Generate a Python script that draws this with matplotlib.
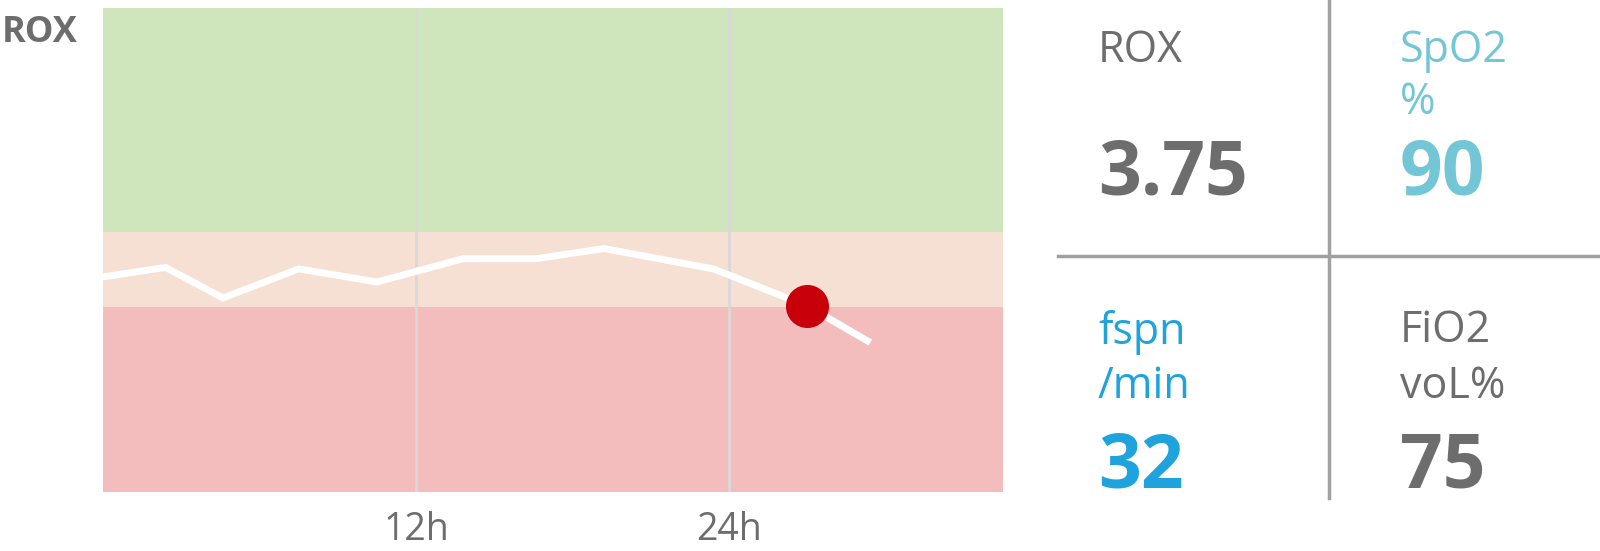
import matplotlib
matplotlib.use("Agg")
import matplotlib.pyplot as plt
from matplotlib.lines import Line2D

plt.rcParams['font.family'] = ['Open Sans', 'DejaVu Sans']

# ROX trend over time (hours)
hours = [0, 2.4, 4.6, 7.5, 10.5, 13.8, 16.6, 19.2, 23.4, 27.0, 29.3]
rox = [4.26, 4.39, 3.97, 4.37, 4.19, 4.51, 4.51, 4.65, 4.37, 3.86, 3.38]
current_idx = 9

# risk zones
low_thr = 3.85
high_thr = 4.88
y_min, y_max = 1.3, 7.96

tick_hours = [12, 24]
tick_labels = ['12h', '24h']

# right panel values
panel_labels = [['ROX'], ['SpO2', '%'], ['fspn', '/min'], ['FiO2', 'voL%']]
panel_values = ['3.75', '90', '32', '75']

GRAY = '#6d6d6d'
TEAL = '#72c6d6'
BLUE = '#1fa3dc'
panel_colors = [GRAY, TEAL, BLUE, GRAY]

W, H = 1600, 551
fig = plt.figure(figsize=(W / 100, H / 100), dpi=100)

def fx(px):
    return px / W

def fy(py):
    return 1 - py / H

ax = fig.add_axes([fx(103), fy(492), fx(1003) - fx(103), fy(8) - fy(492)])
ax.axhspan(y_min, low_thr, color='#f3bdbd', lw=0, zorder=0)
ax.axhspan(low_thr, high_thr, color='#f6dfd3', lw=0, zorder=0)
ax.axhspan(high_thr, y_max, color='#cfe6bd', lw=0, zorder=0)
for t in tick_hours:
    ax.axvline(t, color='#d9d9d9', lw=2, zorder=1)
ax.plot(hours, rox, color='white', lw=5, zorder=2, solid_joinstyle='miter')
ax.plot(hours[current_idx], rox[current_idx], 'o', color='#c8000a', ms=31, mec='none', zorder=3)
ax.set_xlim(0, 34.5)
ax.set_ylim(y_min, y_max)
ax.set_xticks(tick_hours)
ax.set_xticklabels(tick_labels, fontsize=27, color=GRAY)
ax.tick_params(axis='x', length=0, pad=14)
ax.set_yticks([])
for s in ax.spines.values():
    s.set_visible(False)

fig.text(fx(2), fy(42), 'ROX', fontsize=26, fontweight='bold', color=GRAY, va='baseline')

# grid lines of the right panel
fig.add_artist(Line2D([fx(1329), fx(1329)], [fy(0), fy(498)], color='#a0a0a0', lw=2.5))
fig.add_artist(Line2D([fx(1058), fx(1600)], [fy(256), fy(256)], color='#a0a0a0', lw=2.5))

# cells: (x, label baselines, value baseline)
cells = [
    (1098, [62], 194),
    (1400, [62, 114], 194),
    (1098, [344, 398], 488),
    (1400, [342, 398], 488),
]
for (x, bases, vbase), labels, val, col in zip(cells, panel_labels, panel_values, panel_colors):
    for b, lab in zip(bases, labels):
        fig.text(fx(x), fy(b), lab, fontsize=31, color=col, va='baseline')
    fig.text(fx(x), fy(vbase), val, fontsize=54, fontweight='bold', color=col, va='baseline')

fig.savefig('out.png', dpi=100)
